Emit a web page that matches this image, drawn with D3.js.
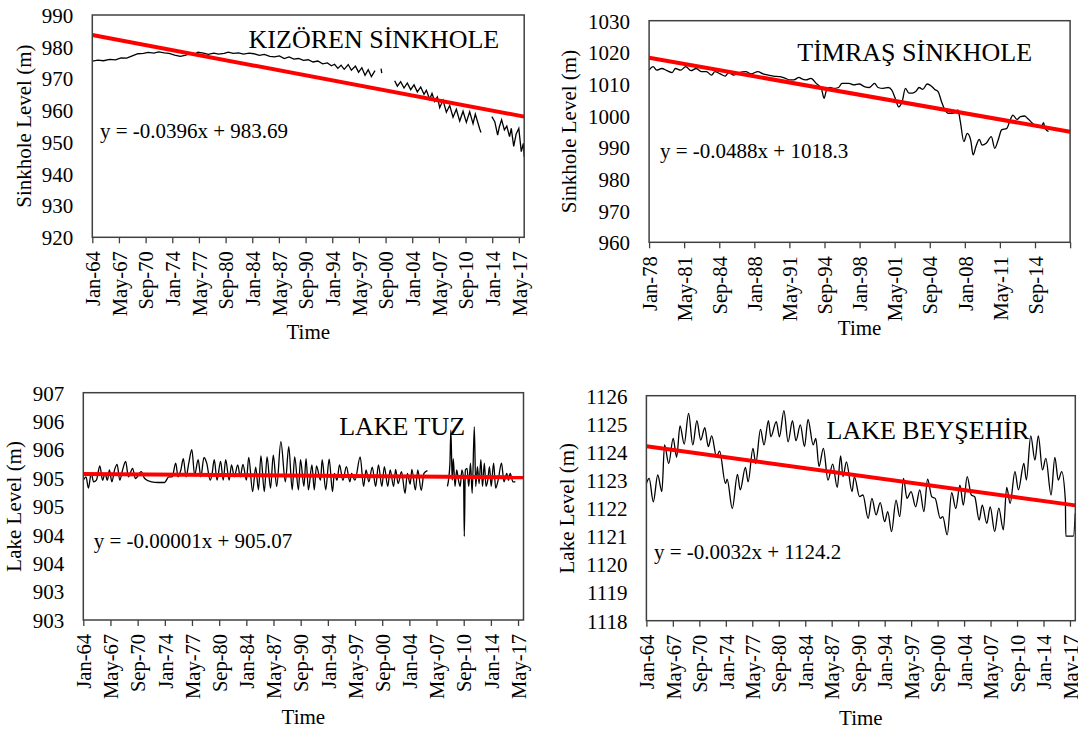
<!DOCTYPE html>
<html>
<head>
<meta charset="utf-8">
<title>Sinkhole and Lake Levels</title>
<script src="https://d3js.org/d3.v7.min.js"></script>
<style>
body { margin: 0; background: #fff; }
svg { font-family: "Liberation Serif", "Times New Roman", serif; }
.series { fill: none; stroke: #000; stroke-width: 1.3; }
.trend { fill: none; stroke: #ff0000; stroke-width: 4; }
.frame { fill: none; stroke: #404040; stroke-width: 1.5; }
.axis text { font-size: 21px; fill: #000; }
.x-axis text { font-size: 20.5px; }
.axis line { stroke: #404040; stroke-width: 1.3; }
.axis-title { font-size: 21px; fill: #000; }
.panel-title { font-size: 26px; fill: #000; }
.equation { font-size: 21px; fill: #000; }
</style>
</head>
<body>
<svg id="chart" width="1078" height="731"></svg>

<script>

/* Data: [decimal year, level in m], null breaks the line */
var kizorenLevel = [
  [1964.0,975.5],[1964.7,975.8],[1965.4,975.6],[1966.2,976.0],[1966.9,975.9],[1967.6,976.5],
  [1968.3,976.4],[1969.0,977.1],[1969.7,977.8],[1970.4,977.9],[1971.0,978.2],[1971.7,978.0],
  [1972.3,978.4],[1973.0,978.1],[1973.6,977.9],[1974.3,977.4],[1975.0,977.0],[1975.6,977.3],
  [1976.2,977.8],[1976.8,977.6],[1977.2,978.3],[1977.9,978.0],[1978.5,977.6],[1979.2,978.0],
  [1979.8,977.7],[1980.5,977.9],[1981.0,978.3],[1981.6,977.9],[1982.3,978.1],[1982.9,977.7],
  [1983.6,978.0],[1984.2,977.8],[1984.9,977.3],[1985.5,977.6],[1986.2,977.0],[1986.8,976.8],
  [1987.4,977.1],[1988.0,976.3],[1988.6,976.8],[1989.2,976.1],[1989.8,976.3],[1990.4,975.7],
  [1991.0,975.9],[1991.6,975.2],[1992.2,975.5],[1992.8,974.6],[1993.4,974.9],[1993.9,974.0],
  [1994.3,974.5],[1994.7,973.2],[1995.1,974.2],[1995.5,972.9],[1996.0,974.4],[1996.4,972.6],
  [1996.9,973.9],[1997.3,972.0],[1997.7,973.4],[1998.1,971.0],[1998.5,972.8],[1998.9,970.6],
  [1999.35,972.5],[1999.4,null],
  [2000.1,973.1],[2000.2,971.7],[2000.3,null],
  [2001.81,969.3],[2002.14,967.6],[2002.56,969.0],[2002.98,967.0],[2003.39,968.6],[2003.81,966.5],
  [2004.23,968.0],[2004.64,965.8],[2005.06,967.3],[2005.48,965.0],[2005.77,966.3],[2006.19,963.5],
  [2006.48,965.3],[2006.82,962.8],[2007.14,964.2],[2007.44,960.8],[2007.85,963.2],[2008.27,959.4],
  [2008.69,961.5],[2009.1,957.8],[2009.52,960.3],[2009.94,956.6],[2010.36,959.7],[2010.77,956.2],
  [2011.19,959.5],[2011.61,955.8],[2011.89,958.8],[2012.44,954.1],[2012.6,953.0],[2012.7,null],
  [2013.96,958.0],[2014.33,956.4],[2014.68,952.2],[2014.9,954.8],[2015.18,957.0],[2015.53,953.8],
  [2015.83,955.0],[2016.17,951.7],[2016.39,954.3],[2016.69,948.6],[2016.99,952.5],[2017.33,954.3],
  [2017.64,947.0],[2017.9,949.6],[2018.0,945.4]
];

var timrasLevel = [
  [1978.0,1014.4],[1978.39,1015.5],[1978.72,1014.4],[1979.21,1014.9],[1979.7,1014.2],[1980.19,1013.6],
  [1980.51,1014.9],[1981.0,1014.4],[1981.49,1015.5],[1981.98,1014.2],[1982.47,1014.9],[1982.96,1013.9],
  [1983.45,1013.9],[1983.94,1012.8],[1984.26,1013.9],[1984.75,1013.2],[1985.24,1012.5],[1985.57,1013.6],
  [1986.06,1012.8],[1986.55,1013.6],[1987.2,1013.9],[1987.69,1013.2],[1988.34,1013.9],[1988.83,1013.2],
  [1989.32,1012.8],[1989.81,1012.5],[1990.46,1012.3],[1990.95,1011.8],[1991.37,1011.3],[1991.76,1011.3],
  [1992.25,1012.1],[1992.42,1011.8],[1992.91,1011.3],[1993.39,1011.8],[1993.88,1010.2],[1994.37,1008.6],
  [1994.63,1005.5],[1994.86,1008.1],[1995.19,1008.9],[1995.51,1008.6],[1996.0,1008.9],[1996.33,1010.2],
  [1996.98,1010.2],[1997.47,1009.7],[1997.96,1010.0],[1998.45,1009.2],[1998.94,1008.9],[1999.43,1010.2],
  [1999.75,1008.9],[2000.24,1008.6],[2000.73,1008.9],[2001.06,1008.1],[2001.39,1005.5],[2001.71,1002.8],
  [2002.04,1004.4],[2002.36,1008.6],[2002.69,1007.1],[2003.02,1007.1],[2003.34,1007.6],[2003.67,1008.9],
  [2004.0,1008.3],[2004.42,1010.0],[2004.81,1009.4],[2005.14,1008.3],[2005.46,1007.6],[2005.79,1004.4],
  [2006.11,1001.8],[2006.44,1000.7],[2006.77,1000.7],[2007.09,1001.0],[2007.35,1001.8],[2007.58,998.1],
  [2007.91,991.8],[2008.23,994.4],[2008.56,992.3],[2008.79,987.6],[2009.05,990.2],[2009.38,992.5],
  [2009.64,990.7],[2010.03,991.3],[2010.52,993.4],[2010.84,989.7],[2011.17,992.3],[2011.5,995.5],
  [2011.99,996.0],[2012.31,998.6],[2012.57,1000.2],[2012.96,998.8],[2013.29,999.7],[2013.68,999.9],
  [2013.94,999.2],[2014.43,997.6],[2014.82,996.5],[2015.31,996.5],[2015.47,997.8],[2015.64,996.0],
  [2015.96,995.0]
];

var tuzLevel = [
  [1964.0,904.96],[1964.34,905.02],[1964.63,904.82],[1964.97,905.08],[1965.27,904.93],[1965.61,904.96],
  [1966.03,905.21],[1966.37,904.96],[1966.66,905.08],[1966.96,904.96],[1967.21,905.14],[1967.51,904.93],
  [1967.85,905.15],[1968.15,905.24],[1968.48,904.96],[1968.82,905.14],[1969.2,905.29],[1969.54,905.02],
  [1970.05,905.17],[1970.39,904.99],[1971.11,905.11],[1971.53,904.99],[1972.38,904.93],[1973.22,904.92],
  [1973.98,904.92],[1974.49,905.02],[1974.91,905.02],[1975.34,905.26],[1975.63,905.02],[1975.97,905.14],
  [1976.27,905.34],[1976.61,905.02],[1976.94,905.26],[1977.32,905.5],[1977.66,905.05],[1978.09,905.32],
  [1978.42,905.02],[1978.81,905.36],[1979.14,905.26],[1979.57,904.96],[1979.78,905.05],[1980.07,905.32],
  [1980.41,904.96],[1980.84,905.29],[1981.17,904.96],[1981.47,905.32],[1981.89,904.96],[1982.19,905.23],
  [1982.53,905.02],[1982.95,905.23],[1983.25,905.02],[1983.59,905.24],[1984.01,904.96],[1984.3,905.36],
  [1984.77,904.76],[1985.15,905.19],[1985.49,904.79],[1985.79,905.39],[1986.21,904.76],[1986.55,905.37],
  [1986.97,904.82],[1987.31,905.4],[1987.73,904.85],[1988.24,905.64],[1988.79,904.93],[1989.21,905.55],
  [1989.63,904.79],[1989.93,905.37],[1990.4,904.79],[1990.65,905.32],[1991.07,904.85],[1991.33,905.34],
  [1991.62,904.79],[1992.05,905.23],[1992.34,904.79],[1992.6,905.21],[1993.1,904.96],[1993.31,905.32],
  [1993.74,904.79],[1994.16,905.33],[1994.58,904.76],[1994.8,905.08],[1995.13,904.96],[1995.43,905.23],
  [1995.85,904.96],[1996.28,905.2],[1996.7,904.93],[1996.91,905.08],[1997.33,904.96],[1997.97,905.37],
  [1998.39,904.85],[1998.69,905.14],[1999.03,904.93],[1999.45,905.19],[1999.87,904.85],[2000.21,905.23],
  [2000.63,904.85],[2000.93,905.2],[2001.35,904.85],[2001.65,905.14],[2002.07,904.85],[2002.32,905.15],
  [2002.62,904.9],[2003.04,905.11],[2003.47,904.73],[2003.76,905.08],[2004.1,904.89],[2004.31,905.15],
  [2004.74,904.79],[2005.03,905.14],[2005.46,904.78],[2005.79,905.08],[2006.22,905.13],[2006.3,null],
  [2008.67,904.85],[2008.97,905.23],[2009.09,905.84],[2009.26,904.96],[2009.39,905.34],[2009.6,904.85],
  [2009.81,905.14],[2010.02,904.96],[2010.24,904.85],[2010.45,905.14],[2010.66,904.96],[2010.74,903.97],
  [2010.87,905.14],[2011.08,905.17],[2011.29,904.85],[2011.5,905.26],[2011.71,904.73],[2011.97,905.9],
  [2012.14,904.85],[2012.35,905.2],[2012.56,904.9],[2012.77,905.32],[2012.98,904.85],[2013.2,905.26],
  [2013.41,904.85],[2013.62,904.96],[2013.83,905.2],[2014.04,904.85],[2014.34,905.26],[2014.59,904.82],
  [2014.89,904.96],[2015.31,905.26],[2015.61,904.93],[2015.95,905.08],[2016.16,904.96],[2016.37,905.08],
  [2016.71,904.93],[2017.0,904.93]
];

var beysehirLevel = [
  [1964.0,1122.88],[1964.35,1123.06],[1964.87,1122.23],[1965.43,1123.18],[1965.95,1122.59],[1966.29,1124.25],
  [1966.81,1123.59],[1967.38,1124.48],[1967.81,1123.81],[1968.24,1124.93],[1968.76,1124.28],[1969.32,1125.37],
  [1969.84,1124.25],[1970.36,1125.11],[1970.84,1124.42],[1971.36,1124.86],[1971.79,1124.19],[1972.23,1124.57],
  [1972.83,1123.83],[1973.22,1124.03],[1973.96,1122.88],[1974.17,1123.03],[1974.82,1121.99],[1975.47,1123.2],
  [1975.82,1122.65],[1976.47,1123.45],[1976.81,1122.94],[1977.42,1124.13],[1977.77,1123.59],[1978.37,1124.8],
  [1978.81,1124.25],[1979.37,1125.11],[1979.67,1124.54],[1980.36,1125.08],[1980.75,1124.54],[1981.32,1125.47],
  [1981.84,1124.36],[1982.4,1125.11],[1982.83,1124.4],[1983.39,1124.96],[1983.91,1124.19],[1984.35,1125.16],
  [1985.0,1124.25],[1985.34,1124.48],[1985.73,1123.48],[1986.29,1124.13],[1986.86,1123.0],[1987.46,1123.57],
  [1988.03,1122.74],[1988.46,1123.86],[1988.76,1123.12],[1989.19,1123.65],[1989.89,1122.59],[1990.19,1123.12],
  [1990.84,1122.41],[1991.27,1122.47],[1991.92,1121.64],[1992.4,1122.35],[1992.92,1121.76],[1993.44,1122.2],
  [1994.0,1121.52],[1994.39,1121.88],[1994.87,1121.17],[1995.43,1122.29],[1995.9,1121.7],[1996.38,1123.06],
  [1996.81,1122.35],[1997.33,1122.59],[1997.9,1122.05],[1998.42,1122.65],[1998.94,1121.88],[1999.41,1123.03],
  [1999.93,1122.41],[2000.36,1122.35],[2001.01,1121.64],[2001.32,1121.7],[2001.88,1121.05],[2002.44,1122.55],
  [2002.96,1121.99],[2003.48,1122.82],[2003.91,1122.11],[2004.39,1123.12],[2004.91,1122.47],[2005.34,1122.41],
  [2005.9,1121.58],[2006.29,1122.11],[2006.86,1121.46],[2007.29,1122.05],[2007.85,1121.17],[2008.37,1122.0],
  [2008.94,1121.23],[2009.37,1122.74],[2009.8,1122.17],[2010.41,1123.3],[2010.84,1122.65],[2011.53,1123.59],
  [2011.84,1123.0],[2012.4,1124.57],[2012.92,1123.71],[2013.35,1124.57],[2013.87,1123.36],[2014.3,1123.77],
  [2014.95,1122.47],[2015.43,1123.81],[2015.86,1123.0],[2016.29,1123.3],[2016.75,1122.29],[2016.81,1121.01],
  [2017.77,1121.01],[2018.0,1121.82]
];

/* Linear trendlines, end points [decimal year, level] */
var kizorenTrend = [[1964.0, 983.69], [2018.0, 958.0]];
var timrasTrend = [[1978.0, 1018.3], [2018.0, 994.9]];
var tuzTrend = [[1964.0, 905.07], [2018.0, 905.01]];
var beysehirTrend = [[1964.0, 1124.2], [2018.0, 1122.1]];

/* Axis ticks */
var ticksFrom64 = ["1964-01","1967-05","1970-09","1974-01","1977-05","1980-09","1984-01","1987-05","1990-09",
  "1994-01","1997-05","2000-09","2004-01","2007-05","2010-09","2014-01","2017-05"];
var ticksFrom78 = ["1978-01","1981-05","1984-09","1988-01","1991-05","1994-09","1998-01","2001-05","2004-09",
  "2008-01","2011-05","2014-09","2018-01"];
var kizorenYTicks = [920, 930, 940, 950, 960, 970, 980, 990];
var timrasYTicks = [960, 970, 980, 990, 1000, 1010, 1020, 1030];
var tuzYTicks = [902.5, 903, 903.5, 904, 904.5, 905, 905.5, 906, 906.5];
var beysehirYTicks = [1118, 1119, 1120, 1121, 1122, 1123, 1124, 1125, 1126];

var titles = ["KIZÖREN SİNKHOLE", "TİMRAŞ SİNKHOLE", "LAKE TUZ", "LAKE BEYŞEHİR"];
var equations = ["y = -0.0396x + 983.69", "y = -0.0488x + 1018.3", "y = -0.00001x + 905.07", "y = -0.0032x + 1124.2"];

var serif = "'Liberation Serif', 'Times New Roman', serif";

/* Panel layout */
var panels = [
  { data: kizorenLevel, trend: kizorenTrend, xTicks: ticksFrom64, yTicks: kizorenYTicks,
    start: 1964, end: 2018, curve: d3.curveLinear, yLabel: "Sinkhole Level (m)",
    x0: 92.3, y0: 15, x1: 524.2, y1: 237.3, yTitleX: 23.3, titleX: 248.6, titleY: 48.3,
    eqX: 99.9, eqY: 138.3, timeY: 339 },
  { data: timrasLevel, trend: timrasTrend, xTicks: ticksFrom78, yTicks: timrasYTicks,
    start: 1978, end: 2018, curve: d3.curveMonotoneX, yLabel: "Sinkhole Level (m)",
    x0: 649.1, y0: 20.7, x1: 1070.1, y1: 242.3, yTitleX: 568.3, titleX: 797.3, titleY: 61,
    eqX: 660, eqY: 158.3, timeY: 335 },
  { data: tuzLevel, trend: tuzTrend, xTicks: ticksFrom64, yTicks: tuzYTicks,
    start: 1964, end: 2018, curve: d3.curveMonotoneX, yLabel: "Lake Level (m)",
    x0: 83.3, y0: 392.7, x1: 523.5, y1: 620, yTitleX: 13.8, titleX: 339.2, titleY: 435,
    eqX: 93.7, eqY: 548.3, timeY: 724 },
  { data: beysehirLevel, trend: beysehirTrend, xTicks: ticksFrom64, yTicks: beysehirYTicks,
    start: 1964, end: 2018, curve: d3.curveMonotoneX, yLabel: "Lake Level (m)",
    x0: 646.4, y0: 395.7, x1: 1075.3, y1: 620.7, yTitleX: 566.6, titleX: 826.5, titleY: 439.3,
    eqX: 653.9, eqY: 559.3, timeY: 725 }
];

function toDate(t) {
  var y = Math.floor(t);
  var m = (t - y) * 12;
  var mi = Math.floor(m);
  return new Date(y, mi, 1 + Math.round((m - mi) * 29));
}

var parseMonth = d3.timeParse("%Y-%m");
var fmtMonth = d3.timeFormat("%b-%y");
var fmtLevel = d3.format(".0f");

var svg = d3.select("#chart");

panels.forEach(function(p, i) {
  var xScale = d3.scaleTime()
    .domain([new Date(p.start, 0, 1), new Date(p.end, 0, 1)])
    .range([p.x0, p.x1]);

  var yScale = d3.scaleLinear()
    .domain(d3.extent(p.yTicks))
    .range([p.y1, p.y0]);

  var g = svg.append("g").attr("class", "panel");

  /* series */
  var line = d3.line()
    .defined(d => d[1] != null)
    .x(d => xScale(toDate(d[0])))
    .y(d => yScale(d[1]))
    .curve(p.curve);

  g.append("path")
    .attr("class", "series")
    .attr("d", line(p.data));

  /* trendline */
  g.append("path")
    .attr("class", "trend")
    .attr("d", d3.line()
      .x(d => xScale(toDate(d[0])))
      .y(d => yScale(d[1]))(p.trend));

  /* plot frame */
  g.append("rect")
    .attr("class", "frame")
    .attr("x", p.x0)
    .attr("y", p.y0)
    .attr("width", p.x1 - p.x0)
    .attr("height", p.y1 - p.y0);

  /* x axis */
  var endDate = xScale.domain()[1];
  var xAxis = d3.axisBottom(xScale)
    .tickValues(p.xTicks.map(parseMonth))
    .tickSize(6)
    .tickSizeOuter(0)
    .tickFormat(d => d < endDate ? fmtMonth(d) : "");

  var xg = g.append("g")
    .attr("class", "axis x-axis")
    .attr("transform", `translate(0, ${p.y1})`)
    .call(xAxis)
    .attr("font-size", null)
    .attr("font-family", serif);
  xg.select(".domain").remove();
  xg.selectAll("text")
    .attr("font-family", serif)
    .attr("transform", "rotate(-90)")
    .attr("x", -14)
    .attr("y", 0)
    .attr("dy", "0.35em")
    .style("text-anchor", "end");

  /* y axis */
  var yAxis = d3.axisLeft(yScale)
    .tickValues(p.yTicks)
    .tickSize(0)
    .tickPadding(19)
    .tickFormat(fmtLevel);

  var yg = g.append("g")
    .attr("class", "axis")
    .attr("transform", `translate(${p.x0}, 0)`)
    .call(yAxis)
    .attr("font-size", null)
    .attr("font-family", serif);
  yg.select(".domain").remove();
  yg.selectAll("text")
    .attr("font-family", serif)
    .attr("dy", "0.35em");

  /* texts */
  g.append("text")
    .attr("class", "axis-title")
    .attr("text-anchor", "middle")
    .attr("x", (p.x0 + p.x1) / 2)
    .attr("y", p.timeY)
    .text("Time");

  g.append("text")
    .attr("class", "axis-title")
    .attr("text-anchor", "middle")
    .attr("dy", "0.35em")
    .attr("transform", `translate(${p.yTitleX}, ${(p.y0 + p.y1) / 2}) rotate(-90)`)
    .text(p.yLabel);

  g.append("text")
    .attr("class", "panel-title")
    .attr("x", p.titleX)
    .attr("y", p.titleY)
    .text(titles[i]);

  g.append("text")
    .attr("class", "equation")
    .attr("x", p.eqX)
    .attr("y", p.eqY)
    .text(equations[i]);
});

</script>
</body>
</html>
